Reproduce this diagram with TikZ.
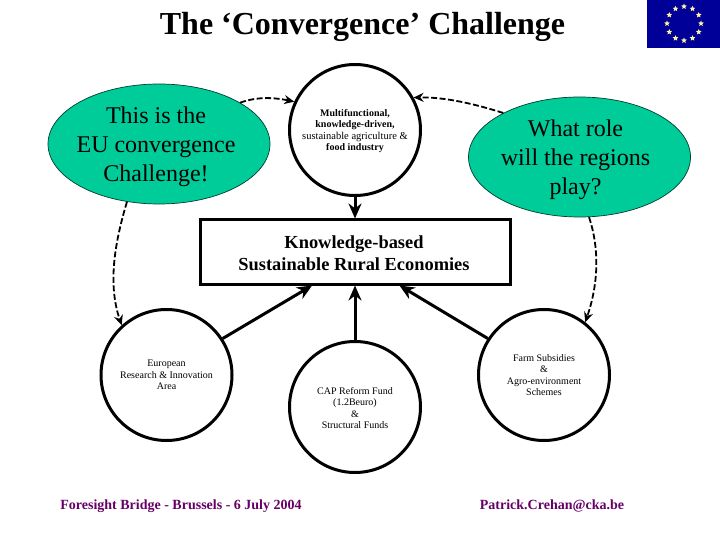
\documentclass[tikz,border=0pt]{standalone}
\usepackage{fontspec}
\setmainfont{Liberation Serif}
\usetikzlibrary{shapes.geometric,arrows.meta,calc}
\definecolor{bubble}{HTML}{00CC99}
\definecolor{footer}{HTML}{660066}
\definecolor{flagblue}{HTML}{000099}
\definecolor{flagstar}{HTML}{FFF4A0}
\tikzset{
  bubblenode/.style={ellipse,draw=black!70!bubble,line width=0.7pt,fill=bubble,minimum width=222pt,minimum height=120pt,inner sep=0pt,align=center,font=\fontsize{24}{29}\selectfont},
  hubnode/.style={circle,draw=black,line width=3pt,fill=white,minimum size=131pt,inner sep=0pt,align=center},
  hubtext/.style={font=\fontsize{10}{11.4}\selectfont},
  solidarrow/.style={draw=black,line width=3pt,-{Stealth[length=15pt,width=13pt]}},
  dasharrow/.style={draw=black,line width=1.8pt,dash pattern=on 6pt off 2.5pt,-{Stealth[length=10pt,width=9pt]}},
  footnode/.style={text=footer,font=\bfseries\fontsize{14}{16}\selectfont},
  starnode/.style={star,star points=5,star point ratio=2.2,fill=flagstar,draw=none,minimum size=6pt,inner sep=0pt}
}
\begin{document}
\begin{tikzpicture}[x=1pt,y=-1pt]
\useasboundingbox (0,0) rectangle (720,540);
\node[font=\bfseries\fontsize{32}{36}\selectfont] (title) at (362.5,27) {The ‘Convergence’ Challenge};
\node[fill=flagblue,minimum width=73pt,minimum height=48pt,inner sep=0pt] (flag) at (683.5,24) {};
\foreach \a in {0,30,...,330}{
  \node[starnode] (s\a) at ($(684,23.5)+(\a:17pt)$) {};
}
\node[bubblenode] (e1) at (159,144) {};
\node[bubblenode] (e2) at (579.5,157) {};
\node[align=center,font=\fontsize{24}{29}\selectfont] (e1t) at (156,147) {This is the\\EU convergence\\Challenge!};
\node[align=center,font=\fontsize{24}{29}\selectfont] (e2t) at (575.5,160) {What role\\will the regions\\play?};
\node[hubnode] (c1) at (355,130) {};
\node[align=center,font=\bfseries\fontsize{10}{11.5}\selectfont] (c1t) at (355,131) {Multifunctional,\\knowledge-driven,\\{\mdseries\fontsize{10.5}{11.5}\selectfont sustainable agriculture \&}\\food industry};
\node[hubnode,hubtext] (c2) at (166.5,375) {European\\Research \& Innovation\\Area};
\node[hubnode] (c3) at (355,407) {};
\node[hubtext,align=center] (c3t) at (355,408) {CAP Reform Fund\\(1.2Beuro)\\\&\\Structural Funds};
\node[hubnode,hubtext] (c4) at (544,375) {Farm Subsidies\\\&\\Agro-environment\\Schemes};
\node[draw=black,line width=3pt,fill=white,minimum width=310pt,minimum height=64pt,inner sep=0pt] (kb) at (355,252) {};
\node[align=center,font=\bfseries\fontsize{18.4}{22}\selectfont] (kbt) at (354,253) {Knowledge-based\\Sustainable Rural Economies};
\draw[solidarrow] (c1) -- (kb);
\draw[solidarrow] (c3) -- (kb);
\draw[solidarrow] (c2.33) -- (kb.218);
\draw[solidarrow] (c4.147) -- (kb.323);
\draw[dasharrow] (e1.27) .. controls (256,97) and (272,97) .. (c1.155);
\draw[dasharrow] (e2.150) .. controls (475,104) and (445,97) .. (c1.29);
\draw[dasharrow] (e1.241) .. controls (114,245) and (108,285) .. (c2.132);
\draw[dasharrow] (e2.279) .. controls (600,250) and (598,285) .. (c4.52);
\node[footnode] (f1) at (181,506) {Foresight Bridge - Brussels - 6 July 2004};
\node[footnode] (f2) at (552,506) {Patrick.Crehan@cka.be};
\end{tikzpicture}
\end{document}
